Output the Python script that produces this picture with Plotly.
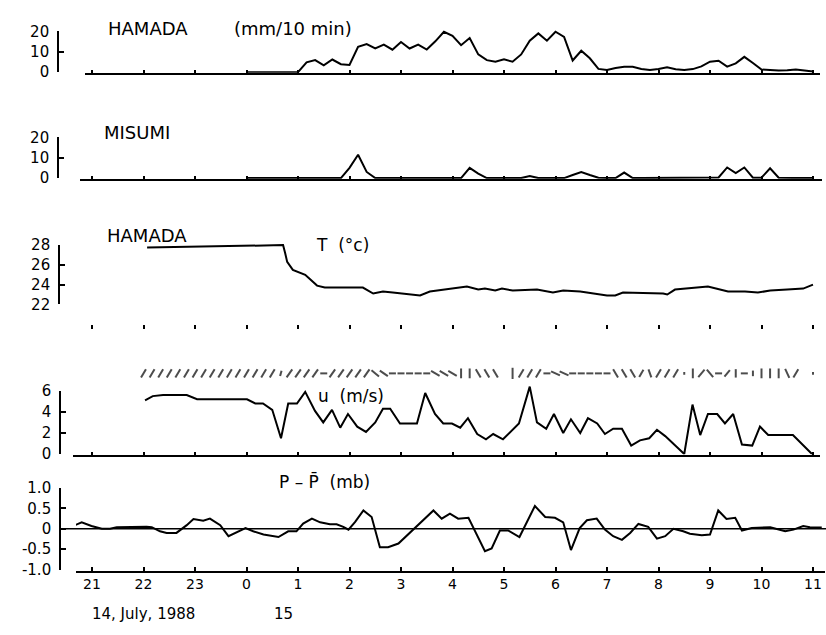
import plotly.graph_objects as go

W, H = 826, 635

# ---------------- data ----------------
HOUR_TICKS = [21, 22, 23, 24, 25, 26, 27, 28, 29, 30, 31, 32, 33, 34, 35]
HOUR_LABELS = ["21", "22", "23", "0", "1", "2", "3", "4", "5", "6", "7", "8", "9", "10", "11"]

RAIN_START = 24.0          # 0:00, 15 July; samples every 10 min
HAMADA_RAIN = [0, 0, 0, 0, 0, 0,
               0, 4.8, 5.9, 3.3, 6.2, 3.9,
               3.5, 12.4, 13.8, 11.6, 13.5, 11.0,
               14.8, 11.6, 13.5, 11.1, 15.1, 19.8,
               17.8, 13.2, 16.7, 8.7, 5.9, 5.1,
               6.3, 5.1, 8.7, 15.4, 19.0, 15.4,
               19.8, 17.3, 5.7, 10.5, 6.8, 1.6,
               1.1, 2.0, 2.7, 2.6, 1.6, 1.1,
               1.5, 2.4, 1.4, 1.1, 1.5, 2.8,
               5.1, 5.6, 2.7, 4.3, 7.5, 4.5,
               1.3, 1.1, 0.8, 0.9, 1.3, 0.8,
               0.3]
MISUMI_RAIN = [0, 0, 0, 0, 0, 0,
               0, 0, 0, 0, 0, 0,
               5.0, 11.4, 3.0, 0, 0, 0,
               0, 0, 0, 0, 0, 0,
               0, 0, 5.0, 2.2, 0, 0,
               0, 0, 0, 1.0, 0, 0,
               0, 0, 1.5, 3.0, 1.5, 0.2,
               0, 0, 2.7, 0, 0, 0,
               0, 0, 0, 0, 0, 0,
               0, 0.3, 5.2, 2.4, 5.2, 0.2,
               0.2, 4.8, 0.2, 0, 0, 0,
               0]

T_TIME = [22.07, 22.5, 23.0, 23.5, 24.0, 24.5, 24.71, 24.75, 24.79, 24.90, 25.14, 25.37,
          25.52, 26.0, 26.26, 26.46, 26.65, 26.84, 27.0, 27.23, 27.37, 27.56, 27.95, 28.28,
          28.50, 28.63, 28.83, 28.96, 29.17, 29.64, 29.95, 30.15, 30.48, 31.0, 31.16, 31.31,
          32.09, 32.17, 32.32, 32.55, 32.96, 33.35, 33.68, 33.93, 34.17, 34.50, 34.81, 35.0]
T_VAL = [27.75, 27.78, 27.82, 27.85, 27.9, 27.95, 28.0, 27.2, 26.3, 25.5, 25.0, 23.9,
         23.7, 23.7, 23.7, 23.1, 23.3, 23.2, 23.1, 23.0, 22.9, 23.3, 23.6, 23.8,
         23.5, 23.6, 23.4, 23.6, 23.4, 23.5, 23.2, 23.4, 23.3, 22.9, 22.9, 23.2,
         23.1, 23.0, 23.5, 23.6, 23.8, 23.3, 23.3, 23.2, 23.4, 23.5, 23.6, 24.0]

U_TIME = [22.03, 22.18, 22.38, 22.84, 23.04, 24.01, 24.17, 24.32, 24.50, 24.67,
          24.81, 24.98, 25.14, 25.33, 25.49, 25.66, 25.82, 25.97, 26.15, 26.32,
          26.50, 26.65, 26.79, 26.98, 27.31, 27.47, 27.66, 27.82, 27.99, 28.15,
          28.30, 28.48, 28.65, 28.79, 28.98, 29.16, 29.29, 29.50, 29.64, 29.82,
          29.97, 30.15, 30.30, 30.48, 30.63, 30.81, 30.96, 31.12, 31.29, 31.47,
          31.64, 31.82, 31.97, 32.13, 32.50, 32.66, 32.81, 32.96, 33.14, 33.29,
          33.45, 33.62, 33.82, 33.97, 34.13, 34.61, 34.98]
U_VAL = [5.1, 5.5, 5.6, 5.6, 5.2, 5.2, 4.8, 4.8, 4.2, 1.5,
         4.8, 4.8, 5.9, 4.1, 3.0, 4.2, 2.5, 3.8, 2.6, 2.1,
         3.0, 4.3, 4.3, 2.9, 2.9, 5.8, 3.8, 2.9, 2.9, 2.5,
         3.4, 1.9, 1.4, 1.9, 1.4, 2.3, 2.9, 6.4, 3.0, 2.4,
         3.8, 2.0, 3.3, 2.0, 3.4, 2.9, 1.9, 2.4, 2.4, 0.8,
         1.3, 1.5, 2.3, 1.7, 0.0, 4.7, 1.8, 3.8, 3.8, 2.9,
         3.8, 0.9, 0.8, 2.6, 1.8, 1.8, 0.0]

WIND_START = 22.0          # wind-direction sticks every 10 min
WIND_ANGLE = [30, 30, 30, 30, 30, 30, 30, 30, 30, 30, 30, 30, 30, 30, 30, 30,
              15, 35, 35, 35, 35, 90, 35, 35, 35, 35, 35,
              -50, -55, 90, 90, 90, 90, 90, -60, -60, -60, 0, 0,
              -30, -30, -30, 0, 0, 30, 30, 30, 90, -65, -65,
              90, 90, 90, 90, 90, -30, -30, -30, 30, -20,
              30, 30, 30, 0, 0, 40, -40, 90, 40, 0, 90, 0,
              0, 0, 0, -25, 30, 0, 0]
WIND_LEN = [7, 7, 7, 7, 7, 7, 7, 7, 7, 7, 7, 7, 7, 7, 7, 7,
            4, 7, 7, 7, 7, 5, 7, 7, 7, 7, 7,
            7, 7, 5, 5, 5, 5, 5, 7, 7, 7, 7, 7,
            7, 7, 7, 0, 8, 7, 7, 7, 5, 7, 7,
            5, 5, 5, 5, 5, 7, 7, 7, 6, 6,
            7, 7, 7, 2, 7, 7, 7, 5, 6, 6, 5, 4,
            7, 7, 7, 7, 7, 0, 2]

P_TIME = [20.67, 20.80, 20.99, 21.19, 21.35, 21.48, 22.06, 22.16, 22.32, 22.45,
          22.64, 22.84, 22.97, 23.16, 23.29, 23.49, 23.65, 23.81, 23.98, 24.13,
          24.33, 24.62, 24.81, 24.97, 25.10, 25.27, 25.43, 25.62, 25.75, 25.88,
          25.98, 26.11, 26.27, 26.43, 26.59, 26.75, 26.95, 27.63, 27.79, 27.95,
          28.11, 28.31, 28.63, 28.76, 28.92, 29.08, 29.30, 29.60, 29.80, 29.99,
          30.15, 30.30, 30.47, 30.61, 30.80, 30.96, 31.12, 31.29, 31.45, 31.61,
          31.80, 31.97, 32.13, 32.29, 32.48, 32.61, 32.84, 33.00, 33.16, 33.32,
          33.49, 33.62, 33.81, 34.17, 34.46, 34.62, 34.81, 34.94, 35.17]
P_VAL = [0.09, 0.16, 0.07, 0.0, 0.0, 0.04, 0.05, 0.04, -0.06, -0.10,
         -0.10, 0.09, 0.24, 0.20, 0.25, 0.09, -0.18, -0.09, 0.02, -0.06,
         -0.14, -0.20, -0.06, -0.06, 0.13, 0.25, 0.16, 0.11, 0.11, 0.05,
         -0.02, 0.17, 0.45, 0.29, -0.45, -0.45, -0.36, 0.45, 0.25, 0.37,
         0.25, 0.27, -0.55, -0.48, -0.04, -0.04, -0.20, 0.56, 0.29, 0.27,
         0.16, -0.52, 0.02, 0.21, 0.25, -0.02, -0.18, -0.27, -0.10, 0.12,
         0.05, -0.24, -0.18, 0.0, -0.06, -0.12, -0.16, -0.14, 0.45, 0.24,
         0.27, -0.04, 0.02, 0.04, -0.06, -0.02, 0.07, 0.04, 0.03]

# ---------------- layout helpers ----------------
FONT = "DejaVu Sans"


def px_x(px):
    return px / W


def px_y(py):
    return 1 - py / H


def hour_at(px):
    return 21 + (px - 92) / 51.5


def yscale(va, pa, vb, pb):
    k = (pa - pb) / (vb - va)
    return lambda v: pa - (v - va) * k


def ydom(f, lo, hi):
    return [px_y(f(lo)), px_y(f(hi))]


def grid10(start, n):
    return [start + i / 6 for i in range(n)]


fig = go.Figure()
LINE = dict(color="black", width=2)

# panel scales (value -> pixel)
s1 = yscale(0, 65, 20, 23)
s2 = yscale(0, 174, 20, 132)
s3 = yscale(22, 304, 28, 243)
s4 = yscale(0, 458, 6, 393)
s5 = yscale(-1, 577, 1, 493)
s_stick = yscale(0, 385, 1, 365)

# traces
fig.add_trace(go.Scatter(x=grid10(RAIN_START, len(HAMADA_RAIN)), y=HAMADA_RAIN,
                         mode="lines", line=LINE, xaxis="x", yaxis="y"))
fig.add_trace(go.Scatter(x=grid10(RAIN_START, len(MISUMI_RAIN)), y=MISUMI_RAIN,
                         mode="lines", line=LINE, xaxis="x2", yaxis="y3"))
fig.add_trace(go.Scatter(x=T_TIME, y=T_VAL, mode="lines", line=LINE,
                         xaxis="x3", yaxis="y5"))
fig.add_trace(go.Scatter(x=U_TIME, y=U_VAL, mode="lines", line=LINE,
                         xaxis="x4", yaxis="y7"))
fig.add_trace(go.Scatter(x=grid10(WIND_START, len(WIND_ANGLE)),
                         y=[0.5] * len(WIND_ANGLE),
                         mode="markers", cliponaxis=False,
                         marker=dict(symbol="line-ns-open", angle=WIND_ANGLE,
                                     size=WIND_LEN, color="black",
                                     line=dict(color="black", width=2)),
                         xaxis="x4", yaxis="y11"))
fig.add_trace(go.Scatter(x=P_TIME, y=P_VAL, mode="lines", line=LINE,
                         xaxis="x5", yaxis="y9"))
# carriers for the bracket axes
for xa, ya in [("x", "y2"), ("x2", "y4"), ("x3", "y6"), ("x4", "y8"), ("x5", "y10")]:
    fig.add_trace(go.Scatter(x=[None], y=[None], xaxis=xa, yaxis=ya,
                             hoverinfo="skip"))


def xaxis(left, right, **kw):
    d = dict(domain=[px_x(left), px_x(right)],
             range=[hour_at(left), hour_at(right)],
             showline=True, linecolor="black", linewidth=1.6,
             ticks="inside", ticklen=3, tickwidth=1.5, tickcolor="black",
             tickvals=HOUR_TICKS, showticklabels=False,
             showgrid=False, zeroline=False, fixedrange=True)
    d.update(kw)
    return d


def data_y(f, lo, hi, anchor):
    return dict(domain=ydom(f, lo, hi), range=[lo, hi], visible=False,
                anchor=anchor, fixedrange=True)


def bracket_y(f, lo, hi, vals, texts, xpos):
    return dict(domain=ydom(f, lo, hi), range=[lo, hi], anchor="free",
                position=px_x(xpos), showline=True, linecolor="black",
                linewidth=1.6, ticks="inside", ticklen=5, tickwidth=1.5,
                tickcolor="black", tickvals=vals, ticktext=texts,
                ticklabelstandoff=5,
                tickfont=dict(family=FONT, size=15, color="black"),
                showgrid=False, zeroline=False, fixedrange=True)


fig.update_layout(
    width=W, height=H, margin=dict(l=0, r=0, t=0, b=0),
    paper_bgcolor="white", plot_bgcolor="rgba(0,0,0,0)",
    showlegend=False, font=dict(family=FONT, color="black"),
    xaxis=xaxis(85, 820, anchor="y"),
    xaxis2=xaxis(80, 822, anchor="y3"),
    xaxis3=xaxis(74, 822, anchor="free", position=px_y(329), showline=False,
                 ticklen=4),
    xaxis4=xaxis(73, 820, anchor="y7"),
    xaxis5=xaxis(76, 825, anchor="y9", ticklen=4, showticklabels=True,
                 ticktext=HOUR_LABELS,
                 tickfont=dict(family=FONT, size=14, color="black")),
    yaxis=data_y(s1, -0.3, 21, "x"),
    yaxis2=bracket_y(s1, 0, 20, [0, 10, 20], ["0", "10", "20"], 58),
    yaxis3=data_y(s2, -0.3, 21, "x2"),
    yaxis4=bracket_y(s2, 0, 20, [0, 10, 20], ["0", "10", "20"], 58),
    yaxis5=data_y(s3, 21.8, 28.4, "x3"),
    yaxis6=bracket_y(s3, 22, 28, [22, 24, 26, 28], ["22", "24", "26", "28"], 59),
    yaxis7=data_y(s4, -0.05, 6.8, "x4"),
    yaxis8=bracket_y(s4, 0, 6, [0, 2, 4, 6], ["0", "2", "4", "6"], 60),
    yaxis9=data_y(s5, -1.03, 1.0, "x5"),
    yaxis10=bracket_y(s5, -1, 1, [-1, -0.5, 0, 0.5, 1],
                      ["-1.0", "-0.5", "0", "0.5", "1.0"], 60),
    yaxis11=data_y(s_stick, 0, 1, "x4"),
)

fig.add_shape(type="line", xref="paper", yref="y9", x0=px_x(60), x1=1,
              y0=0, y1=0, line=dict(color="black", width=1.5))


def label(text, px, py, size=17):
    fig.add_annotation(text=text, x=px_x(px), y=px_y(py), xref="paper",
                       yref="paper", xanchor="left", yanchor="middle",
                       showarrow=False,
                       font=dict(family=FONT, size=size, color="black"))


label("HAMADA", 106, 20, 18)
label("(mm/10 min)", 232, 20, 18)
label("MISUMI", 102, 127, 18)
label("HAMADA", 105, 233, 18)
label("T  (°c)", 314, 243, 17)
label("u  (m/s)", 316, 398, 17)
label("P \u2013 P\u0304  (mb)", 277, 486, 17)
label("14, July, 1988", 90, 623, 15)
label("15", 272, 623, 15)

fig.write_html("out.html",
               config={"displayModeBar": False},
               post_script="document.body.style.margin='0';"
                           "document.body.style.overflow='hidden';")
